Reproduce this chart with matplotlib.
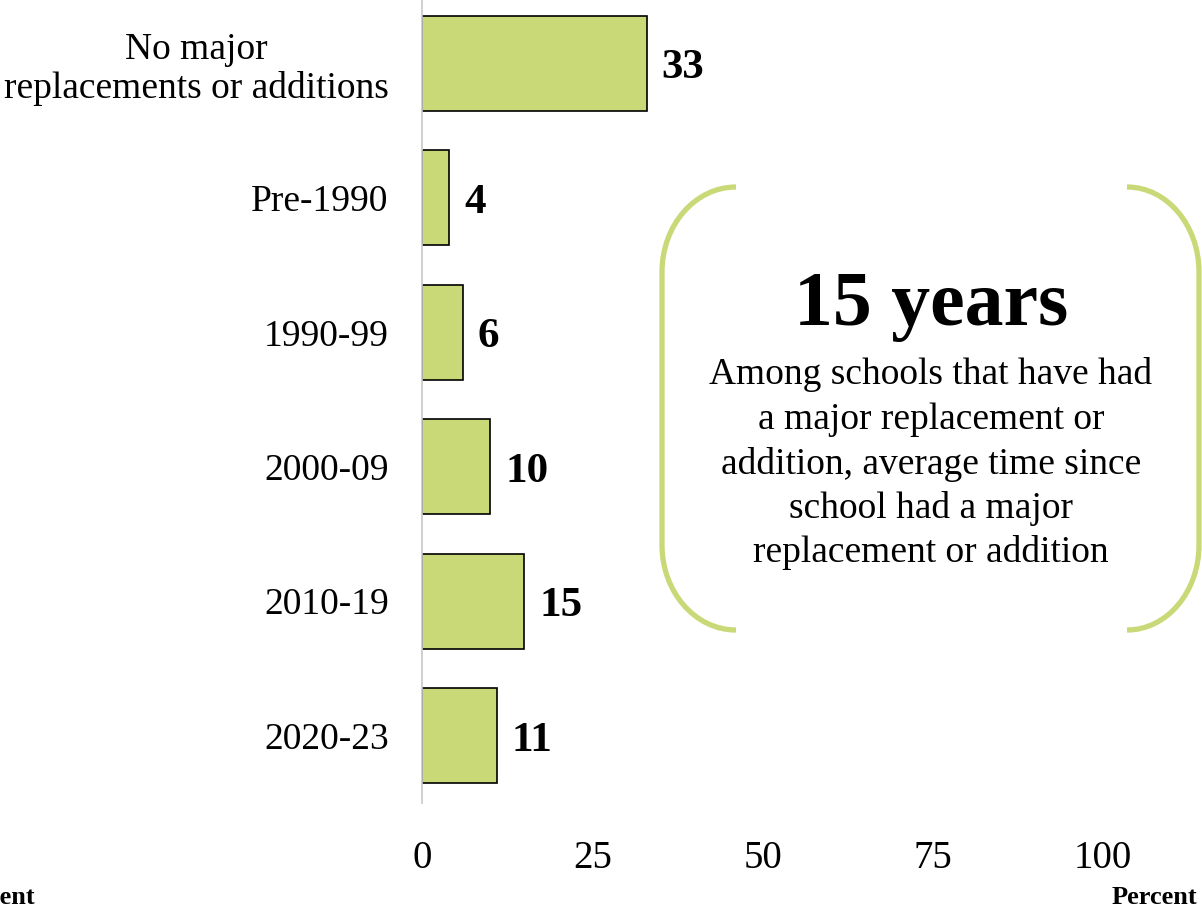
import matplotlib
matplotlib.use("Agg")
import matplotlib.pyplot as plt
from matplotlib.path import Path
from matplotlib.patches import PathPatch

plt.rcParams['font.family'] = ['Liberation Serif', 'DejaVu Serif']

# data
categories = ["No major\nreplacements or additions", "Pre-1990", "1990-99",
              "2000-09", "2010-19", "2020-23"]
values = [33, 4, 6, 10, 15, 11]
xticks = [0, 25, 50, 75, 100]

bar_color = "#c9d977"
bracket_color = "#c9d977"

W, H = 1202, 910
fig = plt.figure(figsize=(W / 100, H / 100), dpi=100)
ax = fig.add_axes([422 / W, 1 - 803 / H, (1103 - 422) / W, 807 / H])

ypos = list(range(len(categories)))
ax.barh(ypos, values, height=0.71, color=bar_color, edgecolor="black", linewidth=1.2)
for y, v in zip(ypos, values):
    ax.annotate(str(v), (v, y), xytext=(15, -5), textcoords="offset pixels",
                ha="left", va="center", fontsize=31, fontweight="bold")

ax.set_xlim(0, 100)
ax.set_ylim(len(categories) - 0.5, -0.5)
ax.set_yticks(ypos)
ax.set_yticklabels(categories, fontsize=27, multialignment="center", linespacing=1.15)
ax.set_xticks(xticks)
ax.set_xticklabels([str(t) for t in xticks], fontsize=28)
ax.tick_params(axis="y", length=0, pad=24)
ax.tick_params(axis="x", length=0, pad=27)
for s in ["top", "right", "bottom"]:
    ax.spines[s].set_visible(False)
ax.spines["left"].set_color("#c8c8c8")
ax.spines["left"].set_linewidth(1.2)

fig.text(1197 / W, 1 - 897 / H, "Percent", ha="right", va="center",
         fontsize=19, fontweight="bold")
fig.text(35 / W, 1 - 897 / H, "Percent", ha="right", va="center",
         fontsize=19, fontweight="bold")

# callout with brackets
ov = fig.add_axes([0, 0, 1, 1], facecolor="none")
ov.set_xlim(0, W)
ov.set_ylim(H, 0)
ov.axis("off")

def bracket(x_end, x_side, top, bot, rx, ry):
    k = 0.5523
    d = 1 if x_end > x_side else -1
    verts = [(x_end, top),
             (x_end - d * rx * k, top), (x_side, top + ry - ry * k), (x_side, top + ry),
             (x_side, bot - ry),
             (x_side, bot - ry + ry * k), (x_end - d * rx * k, bot), (x_end, bot)]
    codes = [Path.MOVETO, Path.CURVE4, Path.CURVE4, Path.CURVE4, Path.LINETO,
             Path.CURVE4, Path.CURVE4, Path.CURVE4]
    ov.add_patch(PathPatch(Path(verts, codes), fill=False, edgecolor=bracket_color,
                           linewidth=3.8, capstyle="butt"))

bracket(736, 662, 187, 630, 74, 85)
bracket(1127, 1199, 187, 630, 72, 85)

ov.text(931, 306, "15 years", ha="center", va="center", fontsize=56, fontweight="bold")
body = ["Among schools that have had", "a major replacement or",
        "addition, average time since", "school had a major",
        "replacement or addition"]
for i, line in enumerate(body):
    ov.text(931, 375 + i * 44.5, line, ha="center", va="center", fontsize=27)

fig.savefig("out.png", dpi=100)
